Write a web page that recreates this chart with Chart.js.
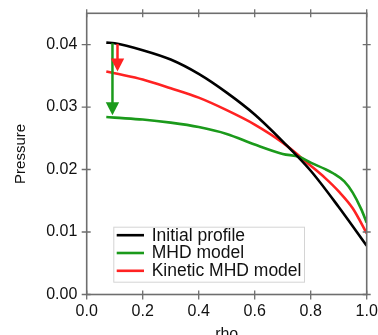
<!DOCTYPE html>
<html>
<head>
<meta charset="utf-8">
<script src="https://cdn.jsdelivr.net/npm/chart.js@4"></script>
<style>
  html, body { margin: 0; padding: 0; background: #fff; overflow: hidden; }
  #wrap { position: relative; top: -12px; width: 378px; height: 362px; }
</style>
</head>
<body>
<div id="wrap"><canvas id="pressureChart" width="378" height="362"></canvas></div>
<script>
// values
const rhoInitial = [0.07, 0.1, 0.2, 0.3, 0.4, 0.5, 0.6, 0.7, 0.8, 0.9, 1.0];
const pInitial   = [0.0403, 0.0402, 0.0391, 0.0376, 0.0353, 0.0323, 0.0288, 0.0245, 0.0198, 0.0140, 0.0078];

const rhoMHD = [0.07, 0.1, 0.2, 0.3, 0.4, 0.5, 0.6, 0.7, 0.76, 0.8, 0.85, 0.88, 0.92, 0.95, 0.98, 1.0];
const pMHD   = [0.0284, 0.0283, 0.0280, 0.0275, 0.0268, 0.0257, 0.0240, 0.0225, 0.0220, 0.0211, 0.0201, 0.0194, 0.0181, 0.0163, 0.0137, 0.0115];

const rhoKinetic = [0.07, 0.1, 0.2, 0.3, 0.4, 0.5, 0.6, 0.7, 0.8, 0.85, 0.9, 0.95, 1.0];
const pKinetic   = [0.0357, 0.0354, 0.0344, 0.0330, 0.0315, 0.0295, 0.0272, 0.0243, 0.0206, 0.0187, 0.0165, 0.0138, 0.0098];

// arrows: green (MHD) and red (kinetic MHD)
const arrowRho  = [0.092, 0.11];
const arrowFrom = [0.0402, 0.0401];
const arrowTo   = [0.0287, 0.0357];

const xTicks = [0, 0.2, 0.4, 0.6, 0.8, 1.0];
const yTicks = [0, 0.01, 0.02, 0.03, 0.04];

const GREEN = '#1b9a1b';
const RED = '#ff2222';
const AXIS = '#6e6e6e';
const FONT = '"Liberation Sans", Arial, Helvetica, sans-serif';

function toPoints(xs, ys) {
    return xs.map((x, i) => ({ x: x, y: ys[i] }));
}

// frame, crossing ticks, arrows, legend, panel label
const decorations = {
    id: 'decorations',
    afterDatasetsDraw(chart) {
        const ctx = chart.ctx;
        const a = chart.chartArea;
        const xs = chart.scales.x, ys = chart.scales.y;
        ctx.save();

        // frame
        ctx.strokeStyle = AXIS;
        ctx.lineWidth = 1.6;
        ctx.strokeRect(a.left, a.top, a.right - a.left, a.bottom - a.top);

        // ticks crossing the frame on all four sides
        ctx.lineWidth = 1.3;
        ctx.beginPath();
        xTicks.forEach(v => {
            const px = xs.getPixelForValue(v);
            ctx.moveTo(px, a.bottom - 4); ctx.lineTo(px, a.bottom + 5);
            ctx.moveTo(px, a.top - 4); ctx.lineTo(px, a.top + 4);
        });
        yTicks.forEach(v => {
            const py = ys.getPixelForValue(v);
            ctx.moveTo(a.left - 5, py); ctx.lineTo(a.left + 4, py);
            ctx.moveTo(a.right - 4, py); ctx.lineTo(a.right + 4, py);
        });
        ctx.stroke();

        // arrows
        const arrowColors = [GREEN, RED];
        arrowRho.forEach((r, i) => {
            const px = xs.getPixelForValue(r);
            const y0 = ys.getPixelForValue(arrowFrom[i]);
            const y1 = ys.getPixelForValue(arrowTo[i]);
            const head = 13;
            ctx.strokeStyle = arrowColors[i];
            ctx.fillStyle = arrowColors[i];
            ctx.lineWidth = 2.5;
            ctx.beginPath();
            ctx.moveTo(px, y0);
            ctx.lineTo(px, y1 - head + 1);
            ctx.stroke();
            ctx.beginPath();
            ctx.moveTo(px - 6.7, y1 - head);
            ctx.lineTo(px + 6.7, y1 - head);
            ctx.lineTo(px, y1);
            ctx.closePath();
            ctx.fill();
        });

        // legend inside the plot
        const lx = a.left + 26.6, lw = 190.7, lh = 55;
        const ly = a.bottom - 12.8 - lh;
        ctx.fillStyle = '#fff';
        ctx.fillRect(lx, ly, lw, lh);
        ctx.strokeStyle = '#d4d4d4';
        ctx.lineWidth = 1;
        ctx.strokeRect(lx + 0.5, ly + 0.5, lw, lh);
        ctx.font = '17.5px ' + FONT;
        ctx.textBaseline = 'middle';
        chart.data.datasets.forEach((ds, i) => {
            const cy = ly + 8.5 + i * 17.8;
            ctx.strokeStyle = ds.borderColor;
            ctx.lineWidth = 2.6;
            ctx.beginPath();
            ctx.moveTo(lx + 3.4, cy);
            ctx.lineTo(lx + 30.7, cy);
            ctx.stroke();
            ctx.fillStyle = '#111';
            ctx.fillText(ds.label, lx + 38.4, cy + 0.5);
        });

        // panel label, cut off at the top of the picture
        ctx.font = '32px ' + FONT;
        ctx.textAlign = 'center';
        ctx.textBaseline = 'alphabetic';
        ctx.fillStyle = '#555';
        ctx.fillText('(a)', 100, 5);

        ctx.restore();
    }
};

new Chart(document.getElementById('pressureChart'), {
    type: 'scatter',
    data: {
        datasets: [
            { label: 'Initial profile', data: toPoints(rhoInitial, pInitial), borderColor: '#000000' },
            { label: 'MHD model', data: toPoints(rhoMHD, pMHD), borderColor: GREEN },
            { label: 'Kinetic MHD model', data: toPoints(rhoKinetic, pKinetic), borderColor: RED }
        ]
    },
    options: {
        responsive: false,
        animation: false,
        showLine: true,
        layout: { padding: { left: 0, right: 11.3, top: 25.3, bottom: 0 } },
        elements: {
            point: { radius: 0 },
            line: { borderWidth: 2.6, cubicInterpolationMode: 'monotone' }
        },
        plugins: {
            legend: { display: false },
            tooltip: { enabled: false }
        },
        scales: {
            x: {
                type: 'linear', min: 0, max: 1,
                grid: { display: false, drawTicks: false },
                border: { display: false },
                afterBuildTicks: s => { s.ticks = xTicks.map(v => ({ value: v })); },
                afterFit: s => { s.height = 55.5; s.paddingLeft = 0; s.paddingRight = 0; },
                ticks: {
                    padding: 7.5, color: '#111', font: { family: FONT, size: 16 },
                    callback: v => v.toFixed(1)
                },
                title: {
                    display: true, text: 'rho', color: '#111',
                    font: { family: FONT, size: 16 }, padding: { top: 0, bottom: 6 }
                }
            },
            y: {
                type: 'linear', min: 0, max: 0.045,
                grid: { display: false, drawTicks: false },
                border: { display: false },
                afterBuildTicks: s => { s.ticks = yTicks.map(v => ({ value: v })); },
                afterFit: s => { s.width = 86.7; s.paddingTop = 0; s.paddingBottom = 0; },
                ticks: {
                    padding: 9.4, color: '#111', font: { family: FONT, size: 16 },
                    callback: v => v.toFixed(2)
                },
                title: {
                    display: true, text: 'Pressure', color: '#111',
                    font: { family: FONT, size: 15 }, padding: { top: 12, bottom: 0 }
                }
            }
        }
    },
    plugins: [decorations]
});
</script>
</body>
</html>
